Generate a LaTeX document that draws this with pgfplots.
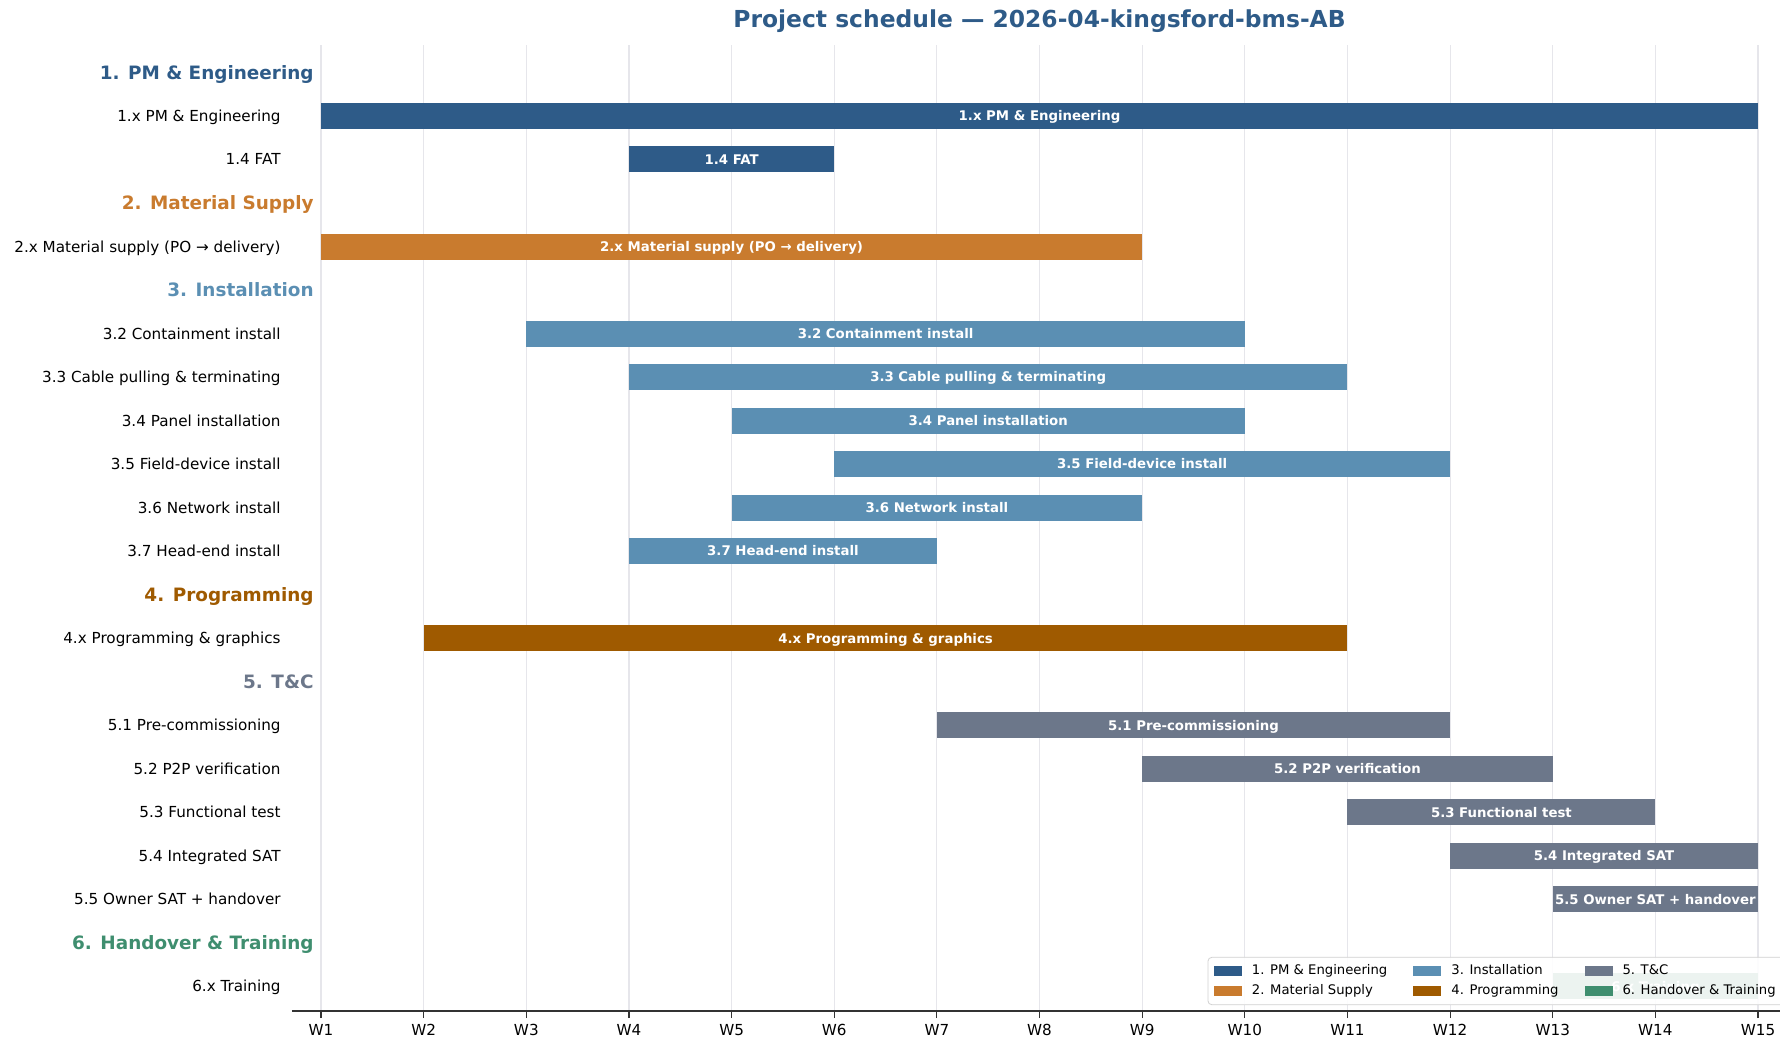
\documentclass[border=0pt]{standalone}
\usepackage{fontspec}
\setmainfont{DejaVu Sans}
\usepackage{pgfplots}
\usepackage{pgfplotstable}
\pgfplotsset{compat=1.18}

\definecolor{c1}{HTML}{2E5B88}
\definecolor{c2}{HTML}{C97B2E}
\definecolor{c3}{HTML}{5B8FB3}
\definecolor{c4}{HTML}{9F5A00}
\definecolor{c5}{HTML}{6C778A}
\definecolor{c6}{HTML}{3F8E6F}
\definecolor{gridc}{HTML}{E6E6EB}
\definecolor{spine}{HTML}{333333}

\pgfplotstableread[col sep=comma]{
row,start,end,label
1,1,15,{1.x PM \& Engineering}
2,4,6,{1.4 FAT}
}\tgA
\pgfplotstableread[col sep=comma]{
row,start,end,label
4,1,9,{2.x Material supply (PO → delivery)}
}\tgB
\pgfplotstableread[col sep=comma]{
row,start,end,label
6,3,10,{3.2 Containment install}
7,4,11,{3.3 Cable pulling \& terminating}
8,5,10,{3.4 Panel installation}
9,6,12,{3.5 Field-device install}
10,5,9,{3.6 Network install}
11,4,7,{3.7 Head-end install}
}\tgC
\pgfplotstableread[col sep=comma]{
row,start,end,label
13,2,11,{4.x Programming \& graphics}
}\tgD
\pgfplotstableread[col sep=comma]{
row,start,end,label
15,7,12,{5.1 Pre-commissioning}
16,9,13,{5.2 P2P verification}
17,11,14,{5.3 Functional test}
18,12,15,{5.4 Integrated SAT}
19,13,15,{5.5 Owner SAT + handover}
}\tgE
\pgfplotstableread[col sep=comma]{
row,start,end,label
21,13,15,{6.x Training}
}\tgF

\newcommand{\hdr}[2]{\raisebox{-0.6pt}{\textcolor{#1}{\bfseries\fontsize{9.2}{11}\selectfont #2}}\hspace*{-16.5pt}}

\pgfplotsset{
  ganttbar/.style={forget plot, only marks, mark=none,
    nodes near coords, point meta=explicit symbolic,
    every node near coord/.style={anchor=base, yshift=-2.42pt, text=white, inner sep=0pt,
      font=\bfseries\fontsize{6.65}{8}\selectfont},
    error bars/x dir=both, error bars/x explicit, error bars/error mark=none,
    error bars/error bar style={line width=13pt, draw=#1, line cap=butt}},
  /pgfplots/table/gtable/.style={x expr={(\thisrow{start}+\thisrow{end})/2}, y=row,
    x error expr={(\thisrow{end}-\thisrow{start})/2}, meta=label}
}

\begin{document}
\begin{tikzpicture}
\begin{axis}[
  name=ax,
  x=51.32pt, y=21.76pt, y dir=reverse,
  xmin=0.717, xmax=15.283, ymin=-0.63, ymax=21.57,
  axis x line*=bottom, axis y line*=left,
  x axis line style={draw=spine, line width=0.8pt, -},
  y axis line style={draw=none},
  tick align=outside, major tick length=3.5pt,
  xtick={1,...,15},
  xticklabels={W1,W2,W3,W4,W5,W6,W7,W8,W9,W10,W11,W12,W13,W14,W15},
  xtick style={draw=spine, line width=0.6pt},
  ytick style={draw=none},
  ticklabel style={font=\fontsize{7.6}{9}\selectfont, text=black},
  xticklabel style={anchor=north, inner sep=0pt, yshift=-2.75pt},
  yticklabel style={anchor=base east, inner sep=0pt, xshift=-2pt, yshift=-2.77pt},
  ytick={0,...,21},
  yticklabels={
    {\hdr{c1}{1. PM \& Engineering}},
    {1.x PM \& Engineering},
    {1.4 FAT},
    {\hdr{c2}{2. Material Supply}},
    {2.x Material supply (PO → delivery)},
    {\hdr{c3}{3. Installation}},
    {3.2 Containment install},
    {3.3 Cable pulling \& terminating},
    {3.4 Panel installation},
    {3.5 Field-device install},
    {3.6 Network install},
    {3.7 Head-end install},
    {\hdr{c4}{4. Programming}},
    {4.x Programming \& graphics},
    {\hdr{c5}{5. T\&C}},
    {5.1 Pre-commissioning},
    {5.2 P2P verification},
    {5.3 Functional test},
    {5.4 Integrated SAT},
    {5.5 Owner SAT + handover},
    {\hdr{c6}{6. Handover \& Training}},
    {6.x Training}},
  xmajorgrids, major grid style={draw=gridc, line width=0.6pt},
  title={Project schedule — 2026-04-kingsford-bms-AB},
  every axis title shift=0pt,
  title style={font=\bfseries\fontsize{11.7}{14}\selectfont, text=c1,
    at={(0.5,1)}, anchor=base, yshift=8.85pt},
  legend columns=2, transpose legend, legend cell align=left,
  legend image code/.code={\fill[#1, sharp corners, fill opacity=1] (0pt,-2.3pt) rectangle (14pt,2.3pt);},
  legend style={at={(1,0)}, anchor=south east, xshift=-0.5pt, yshift=3pt,
    font=\fontsize{6.6}{7.8}\selectfont, fill=white, fill opacity=0.9,
    draw opacity=1, text opacity=1, draw=black!18, rounded corners=2pt,
    inner xsep=3pt, inner ysep=1.6pt, row sep=-0.5pt,
    /tikz/every odd column/.append style={column sep=3pt},
    /tikz/every even column/.append style={column sep=11pt}},
]
\addplot[ganttbar=c1] table[gtable] {\tgA};
\addplot[ganttbar=c2] table[gtable] {\tgB};
\addplot[ganttbar=c3] table[gtable] {\tgC};
\addplot[ganttbar=c4] table[gtable] {\tgD};
\addplot[ganttbar=c5] table[gtable] {\tgE};
\addplot[ganttbar=c6] table[gtable] {\tgF};

\addlegendimage{fill=c1, draw=none}\addlegendentry{1. PM \& Engineering}
\addlegendimage{fill=c2, draw=none}\addlegendentry{2. Material Supply}
\addlegendimage{fill=c3, draw=none}\addlegendentry{3. Installation}
\addlegendimage{fill=c4, draw=none}\addlegendentry{4. Programming}
\addlegendimage{fill=c5, draw=none}\addlegendentry{5. T\&C}
\addlegendimage{fill=c6, draw=none}\addlegendentry{6. Handover \& Training}
\end{axis}
\pgfresetboundingbox
\path[use as bounding box] ([shift={(-146pt,-14pt)}]ax.south west) rectangle ([shift={(744pt,22.5pt)}]ax.north west);
\end{tikzpicture}
\end{document}
